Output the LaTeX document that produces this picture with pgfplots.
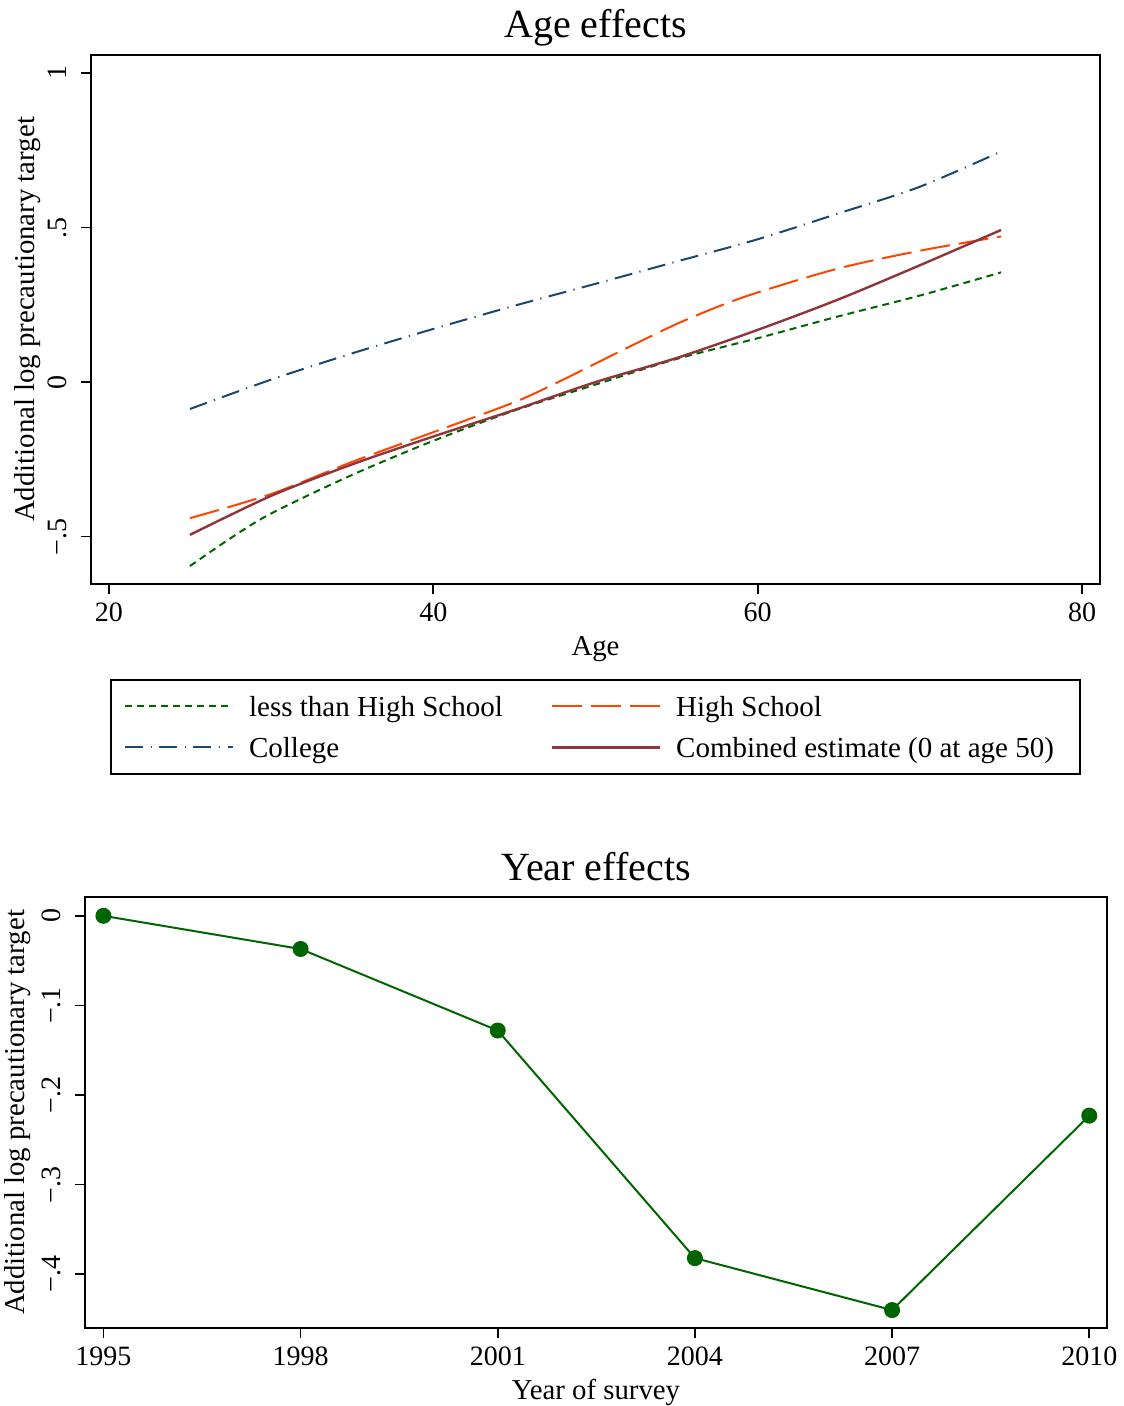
\documentclass[border=0pt]{standalone}
\usepackage{fontspec}
\setmainfont{Liberation Serif}
\usepackage{pgfplots}
\pgfplotsset{compat=1.18}
\definecolor{cgreen}{RGB}{0,100,0}
\definecolor{corange}{RGB}{255,69,0}
\definecolor{cblue}{RGB}{26,71,111}
\definecolor{cmaroon}{RGB}{144,53,59}
\pgfplotsset{stata/.style={
  scale only axis,
  axis line style={line width=0.8pt},
  tick align=outside, tick pos=left,
  major tick length=5pt,
  every tick/.style={black, line width=0.8pt},
  tick label style={font=\fontsize{14}{16}\selectfont},
  label style={font=\fontsize{14.4}{17}\selectfont},
  every axis title/.style={font=\fontsize{20}{24}\selectfont, anchor=center},
  yticklabel style={rotate=90, anchor=south},
  yticklabel shift=3.5pt,
  xticklabel shift=1pt,
}}
\begin{document}
\begin{tikzpicture}
\useasboundingbox (0,0) rectangle (561.5pt,-703pt);
\begin{axis}[stata,
  at={(45.5pt,-292pt)}, anchor=south west,
  width=504.5pt, height=264.5pt,
  xmin=18.9, xmax=81.1, ymin=-0.653, ymax=1.058,
  xtick={20,40,60,80}, xticklabels={20,40,60,80},
  ytick={-0.5,0,0.5,1}, yticklabels={−.5,0,.5,1},
  xlabel={Age}, ylabel={Additional log precautionary target},
  title={Age effects},
  title style={at={(axis description cs:0.5,1.0510)}},
  xlabel style={at={(axis description cs:0.5,-0.1229)}, anchor=center},
  ylabel style={at={(axis description cs:-0.0624,0.5)}, anchor=center},
  legend columns=2,
  legend cell align=left,
  legend image code/.code={\draw[#1] (0pt,0pt) -- (54pt,0pt);},
  legend style={at={(0.5,-0.1796)}, anchor=north, draw=black, line width=0.8pt,
    inner xsep=6.5pt, inner ysep=6.25pt, row sep=6.5pt,
    font=\fontsize{14.5}{17}\selectfont,
    nodes={inner sep=0pt, text height=12pt, text depth=2pt},
    /tikz/every odd column/.append style={column sep=7.5pt},
    /tikz/every even column/.append style={column sep=24pt}},
]
\addplot[cgreen, line width=1pt, dash pattern=on 3.5pt off 2.5pt, smooth] coordinates {
 (25,-0.595) (27.5,-0.505) (30,-0.425) (35,-0.300) (40,-0.190) (45,-0.092) (50,-0.008)
 (55,0.075) (60,0.142) (65,0.213) (70,0.280) (75,0.355)};
\addlegendentry{less than High School}
\addplot[corange, line width=1pt, dash pattern=on 15pt off 4.5pt, smooth] coordinates {
 (25,-0.440) (30,-0.362) (35,-0.258) (40,-0.162) (45,-0.065) (47.5,-0.005) (50,0.060)
 (52.5,0.125) (55,0.188) (57.5,0.243) (60,0.290) (65,0.368) (70,0.425) (75,0.471)};
\addlegendentry{High School}
\addplot[cblue, line width=1pt, dash pattern=on 9pt off 3.75pt on 0.6pt off 3.75pt, smooth] coordinates {
 (25,-0.087) (30,0.008) (35,0.093) (40,0.172) (45,0.247) (50,0.318)
 (55,0.390) (60,0.462) (65,0.546) (70,0.632) (75,0.746)};
\addlegendentry{College}
\addplot[cmaroon, line width=1.2pt, smooth] coordinates {
 (25,-0.494) (30,-0.368) (35,-0.266) (40,-0.176) (45,-0.090) (50,0)
 (55,0.078) (60,0.169) (65,0.268) (70,0.378) (75,0.492)};
\addlegendentry{Combined estimate (0 at age 50)\hspace*{6.5pt}}
\end{axis}
\begin{axis}[stata,
  at={(42.5pt,-664pt)}, anchor=south west,
  width=511pt, height=215.5pt,
  xmin=1994.72, xmax=2010.27, ymin=-0.46, ymax=0.021,
  xtick={1995,1998,2001,2004,2007,2010},
  xticklabels={1995,1998,2001,2004,2007,2010},
  ytick={-0.4,-0.3,-0.2,-0.1,0}, yticklabels={−.4,−.3,−.2,−.1,0},
  xlabel={Year of survey}, ylabel={Additional log precautionary target},
  title={Year effects},
  title style={at={(axis description cs:0.5,1.0696)}},
  xlabel style={at={(axis description cs:0.5,-0.1485)}, anchor=center},
  ylabel style={at={(axis description cs:-0.0656,0.5)}, anchor=center},
]
\addplot[cgreen, line width=1pt, mark=*, mark size=3.5pt, mark options={fill=cgreen, draw=cgreen}] coordinates {
 (1995,0) (1998,-0.037) (2001,-0.128) (2004,-0.382) (2007,-0.440) (2010,-0.223)};
\end{axis}
\end{tikzpicture}
\end{document}
